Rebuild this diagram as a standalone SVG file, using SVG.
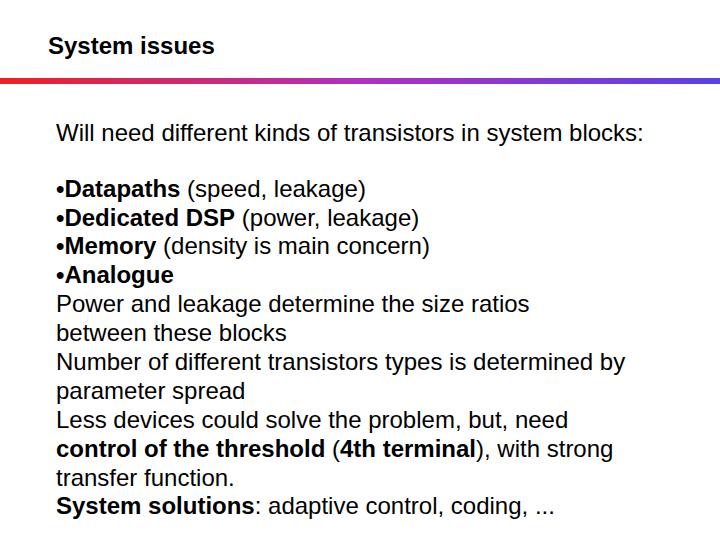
<svg xmlns="http://www.w3.org/2000/svg" width="720" height="540" viewBox="0 0 720 540">
<defs><linearGradient id="g" x1="0" x2="1" y1="0" y2="0"><stop offset="0" stop-color="#f02020"/><stop offset="0.5" stop-color="#b030c0"/><stop offset="1" stop-color="#5a40e8"/></linearGradient></defs>
<style>text{font-family:"Liberation Sans",Arial,sans-serif;fill:#000}.t{font-size:20px;font-weight:bold}.b{font-size:20px}.k{font-weight:bold}</style>
<rect width="720" height="540" fill="#fff"/>
<text class="t" x="48" y="54" style="font-size:24px">System issues</text>
<rect x="0" y="78" width="720" height="6" fill="url(#g)"/>
<g style="font-size:24px">
<text x="56" y="141" style="font-size:24px">Will need different kinds of transistors in system blocks:</text>
<text x="56" y="197" style="font-size:24px"><tspan class="k">•Datapaths</tspan> (speed, leakage)</text>
<text x="56" y="226" style="font-size:24px"><tspan class="k">•Dedicated DSP</tspan> (power, leakage)</text>
<text x="56" y="254" style="font-size:24px"><tspan class="k">•Memory</tspan> (density is main concern)</text>
<text x="56" y="283" style="font-size:24px"><tspan class="k">•Analogue</tspan></text>
<text x="56" y="312" style="font-size:24px">Power and leakage determine the size ratios</text>
<text x="56" y="341" style="font-size:24px">between these blocks</text>
<text x="56" y="370" style="font-size:24px">Number of different transistors types is determined by</text>
<text x="56" y="399" style="font-size:24px">parameter spread</text>
<text x="56" y="428" style="font-size:24px">Less devices could solve the problem, but, need</text>
<text x="56" y="457" style="font-size:24px"><tspan class="k">control of the threshold</tspan> (<tspan class="k">4th terminal</tspan>), with strong</text>
<text x="56" y="486" style="font-size:24px">transfer function.</text>
<text x="56" y="514" style="font-size:24px"><tspan class="k">System solutions</tspan>: adaptive control, coding, ...</text>
</g>
</svg>
